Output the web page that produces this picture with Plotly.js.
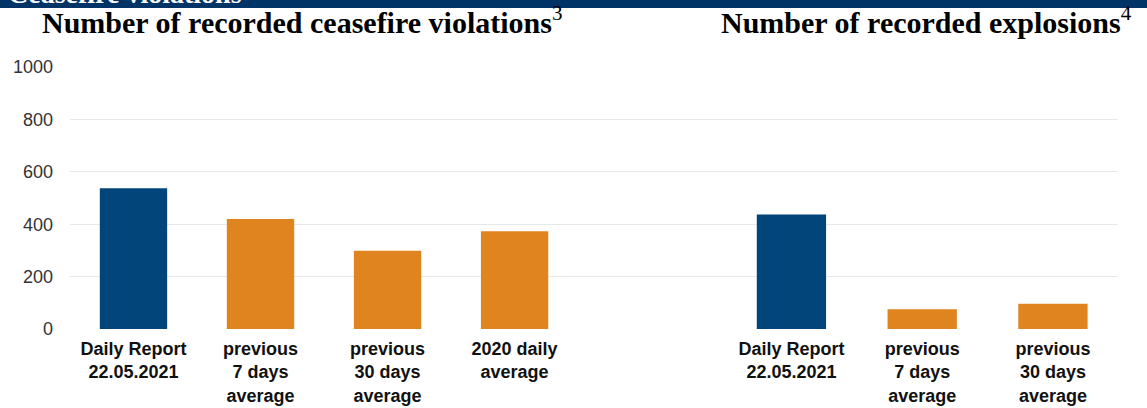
<!DOCTYPE html>
<html>
<head>
<meta charset="utf-8">
<script src="https://cdn.plot.ly/plotly-3.0.1.min.js"></script>
<style>html,body{margin:0;padding:0;background:#fff;}#chart{width:1147px;height:408px;}</style>
</head>
<body>
<div id="chart"></div>
<script>
// ---- data ----
const headerText = "Ceasefire violations";
const leftTitle = "Number of recorded ceasefire violations";
const leftNote = "3";
const rightTitle = "Number of recorded explosions";
const rightNote = "4";
const cfvCategories = ["Daily Report<br>22.05.2021", "previous<br>7 days<br>average", "previous<br>30 days<br>average", "2020 daily<br>average"];
const cfvValues = [537, 420, 299, 373];
const expCategories = ["Daily Report<br>22.05.2021", "previous<br>7 days<br>average", "previous<br>30 days<br>average"];
const expValues = [437, 75, 96];
const yTicks = [0, 200, 400, 600, 800, 1000];

const blue = "#02457a";
const orange = "#e0841f";
const colorsFor = vals => vals.map((v, i) => i === 0 ? blue : orange);

const traces = [
  {type: "scatter", x: [], y: [], xaxis: "x", yaxis: "y", showlegend: false, hoverinfo: "skip"},
  {type: "bar", x: cfvCategories, y: cfvValues, xaxis: "x2", yaxis: "y",
   marker: {color: colorsFor(cfvValues), line: {width: 0}}, showlegend: false},
  {type: "bar", x: expCategories, y: expValues, xaxis: "x3", yaxis: "y",
   marker: {color: colorsFor(expValues), line: {width: 0}}, showlegend: false}
];

const tickFont = {family: "Liberation Sans, Arial, sans-serif", size: 18, color: "#111", weight: "bold"};
const titleFont = {family: "Liberation Serif, Times New Roman, serif", size: 30, color: "#000", weight: "bold"};

const layout = {
  width: 1147, height: 408,
  margin: {l: 0, r: 0, t: 67, b: 79},
  paper_bgcolor: "#fff", plot_bgcolor: "rgba(0,0,0,0)",
  bargap: 0.47,
  xaxis: {domain: [0.061, 0.975], range: [0, 1], visible: false, fixedrange: true},
  xaxis2: {domain: [0.061, 0.504], anchor: "y", showgrid: false, showline: false, zeroline: false,
           ticks: "", tickfont: tickFont, ticklabelstandoff: 7, tickangle: 0},
  xaxis3: {domain: [0.633, 0.975], anchor: "y", showgrid: false, showline: false, zeroline: false,
           ticks: "", tickfont: tickFont, ticklabelstandoff: 7, tickangle: 0},
  yaxis: {anchor: "x", range: [0, 1000], tickvals: yTicks, ticktext: yTicks.map(String),
          showgrid: true, gridcolor: "#e8e8e8", gridwidth: 1, zeroline: false, showline: false,
          ticks: "", ticklabelstandoff: 16,
          tickfont: {family: "Liberation Sans, Arial, sans-serif", size: 18, color: "#333"}},
  shapes: [
    {type: "rect", xref: "paper", yref: "paper", x0: 0, x1: 1, y0: 1 + 59/262, y1: 1 + 67/262,
     fillcolor: "#003366", line: {width: 0}, layer: "below"}
  ],
  annotations: [
    {xref: "paper", yref: "paper", x: 0.005, y: 1 + 56/262, xanchor: "left", yanchor: "bottom",
     text: headerText, showarrow: false, font: {family: titleFont.family, size: 28, color: "#fff", weight: "bold"}},
    {xref: "paper", yref: "paper", x: 302/1147, y: 1 + 26/262, xanchor: "center", yanchor: "bottom",
     text: leftTitle + "<span style='font-weight:normal'><sup>" + leftNote + "</sup></span>", showarrow: false, font: titleFont},
    {xref: "paper", yref: "paper", x: 926/1147, y: 1 + 26/262, xanchor: "center", yanchor: "bottom",
     text: rightTitle + "<span style='font-weight:normal'><sup>" + rightNote + "</sup></span>", showarrow: false, font: titleFont}
  ]
};

Plotly.newPlot("chart", traces, layout, {displayModeBar: false, staticPlot: true});
</script>
</body>
</html>
